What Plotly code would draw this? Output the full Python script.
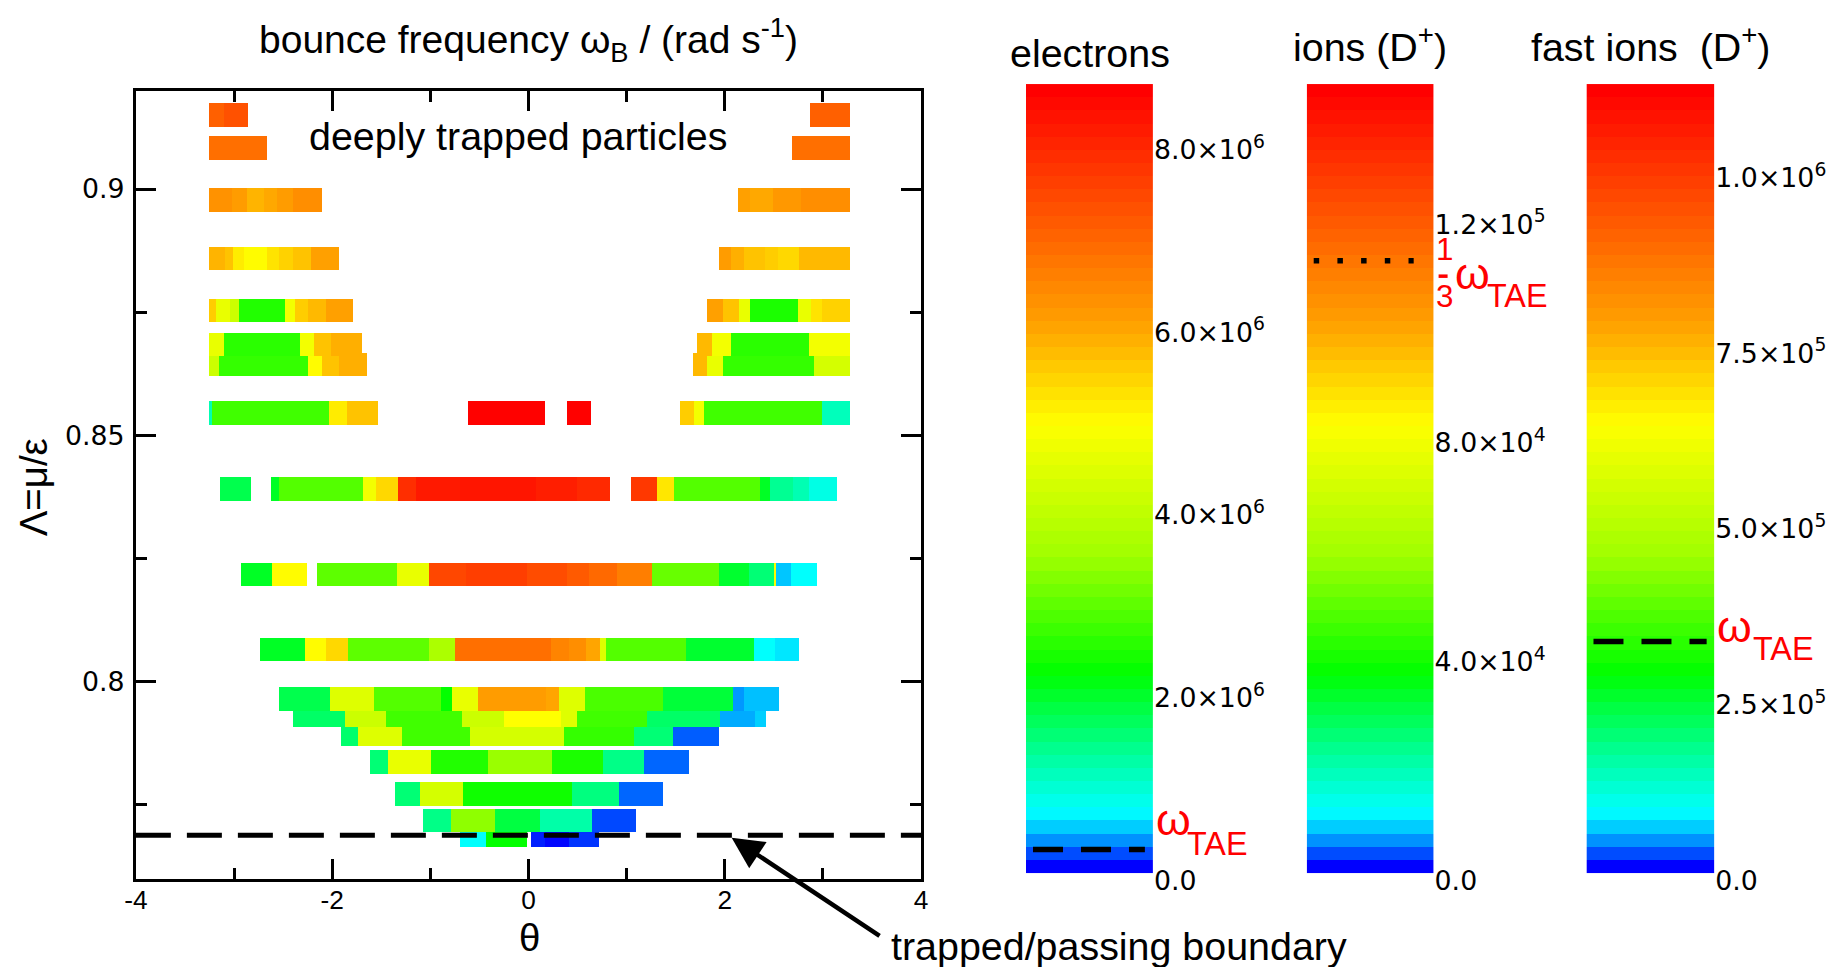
import plotly.graph_objects as go

W, H = 1832, 967
# the captured page comes out slightly resized and shifted; positions below are
# written in final picture pixels and mapped through this correction
SX, SY, OX = 0.9906, 0.988, 10.1
FS = 2.0 / (SX + SY)

TEXT_FONT = "Liberation Sans, Arial, Helvetica, sans-serif"
NUM_FONT = "DejaVu Sans, Verdana, sans-serif"

# rainbow map used for the bounce frequency (blue -> cyan -> green -> yellow -> red)
COLORSCALE = [
    [0.00, "rgb(0,0,255)"],
    [0.02, "rgb(0,90,255)"],
    [0.045, "rgb(0,190,255)"],
    [0.07, "rgb(0,255,255)"],
    [0.14, "rgb(0,255,160)"],
    [0.25, "rgb(0,255,0)"],
    [0.40, "rgb(160,255,0)"],
    [0.57, "rgb(255,255,0)"],
    [0.70, "rgb(255,160,0)"],
    [0.85, "rgb(255,80,0)"],
    [1.00, "rgb(255,0,0)"],
]

# TAE frequency (rad/s)
omega_tae = 3.4e5

# trapped/passing boundary in Lambda
lambda_boundary = 0.7688

# orbit rows: Lambda of each row, theta edges of its cells and the electron
# bounce frequency of each cell in units of 1e6 rad/s (None = empty cell)
OMEGA_UNIT = 1e6
ROW_WIDTH = 0.0048

row_lambda = [0.9151, 0.9084, 0.8979, 0.8860, 0.8754, 0.8685, 0.8645, 0.8546,
              0.8392, 0.8218, 0.8066, 0.7966, 0.7933, 0.7894, 0.7837, 0.7772,
              0.7719, 0.7688]

row_theta_edges = [
    [-3.26, -3.10, -2.86, 2.87, 3.27],
    [-3.26, -2.67, 2.68, 3.27],
    [-3.26, -3.02, -2.87, -2.70, -2.565, -2.405, -2.11, 2.13, 2.26, 2.49, 2.78, 3.27],
    [-3.26, -3.09, -3.01, -2.90, -2.67, -2.54, -2.405, -2.22, -1.93,
     1.94, 2.06, 2.19, 2.41, 2.54, 2.75, 3.27],
    [-3.26, -3.18, -3.04, -2.95, -2.485, -2.38, -2.25, -2.06, -1.79,
     1.82, 1.98, 2.14, 2.26, 2.74, 2.88, 2.99, 3.27],
    [-3.26, -3.10, -2.325, -2.19, -2.01, -1.70, 1.72, 1.87, 2.06, 2.86, 3.27],
    [-3.26, -3.15, -2.25, -2.11, -1.93, -1.65, 1.67, 1.82, 1.98, 2.91, 3.27],
    [-3.26, -3.23, -2.03, -1.85, -1.53, -0.62, 0.17, 0.39, 0.64,
     1.54, 1.69, 1.79, 2.99, 3.27],
    [-3.14, -2.83, -2.62, -2.54, -1.69, -1.555, -1.326, -1.145, -0.704, 0.077,
     0.492, 0.827, 1.04, 1.305, 1.486, 2.353, 2.459, 2.698, 2.858, 3.14],
    [-2.93, -2.61, -2.26, -2.16, -1.34, -1.02, -0.635, -0.013, 0.386, 0.614,
     0.901, 1.252, 1.938, 2.246, 2.501, 2.523, 2.677, 2.943],
    [-2.74, -2.28, -2.06, -1.84, -1.02, -0.747, 0.226, 0.412, 0.582, 0.731,
     0.784, 1.608, 2.299, 2.512, 2.751],
    [-2.54, -2.02, -1.58, -0.89, -0.784, -0.518, 0.173, 0.306, 0.572, 1.369,
     2.087, 2.193, 2.549],
    [-2.405, -1.874, -1.448, -0.677, -0.252, 0.333, 0.492, 1.21, 1.954, 2.31, 2.422],
    [-1.916, -1.741, -1.289, -0.598, 0.359, 1.077, 1.475, 1.938],
    [-1.613, -1.432, -0.996, -0.412, 0.237, 0.758, 1.172, 1.63],
    [-1.358, -1.103, -0.667, 0.439, 0.917, 1.374],
    [-1.071, -0.794, -0.342, 0.12, 0.641, 1.093],
    [-0.699, -0.438, -0.013, 0.024, 0.162, 0.412, 0.715],
]

row_omega_e = [
    [7.15, 7.4, None, 7.15],
    [6.9, None, 6.9],
    [6.33, 6.16, 5.86, 6.0, 6.16, 6.4, None, 6.1, 6.0, 6.24, 6.4],
    [5.86, 5.68, 5.2, 5.0, 5.3, 5.5, 5.68, 6.1, None, 6.16, 5.92, 5.68, 5.56, 5.43, 5.8],
    [5.56, 4.62, 4.15, 2.45, 4.78, 5.56, 5.8, 6.1, None, 6.1, 5.68, 4.62, 2.4, 4.62, 5.3, 5.5],
    [4.62, 2.52, 4.78, 5.68, 5.92, None, 5.8, 4.78, 2.52, 4.78],
    [4.15, 2.6, 5.0, 5.68, 5.92, None, 5.8, 4.62, 2.6, 4.3],
    [1.1, 2.7, 5.2, 5.68, None, 8.7, None, 8.7, None, 5.56, 4.78, 2.7, 1.05],
    [1.72, None, 1.96, 2.86, 4.78, 5.43, 7.97, 8.3, 8.38, 8.22, 8.05, None,
     7.8, 5.25, 2.86, 1.96, 1.3, 1.1, 0.78],
    [1.96, 5.0, None, 2.94, 4.62, 7.55, 7.7, 7.48, 7.25, 7.0, 6.65, 3.02,
     1.9, 1.48, 5.0, 0.42, 0.62],
    [1.96, 5.0, 5.43, 2.94, 3.68, 6.9, 6.56, 6.4, 6.04, 4.46, 2.86, 1.9, 0.62, 0.53],
    [1.72, 4.46, 2.86, 2.2, 4.62, 6.16, 6.04, 4.46, 2.78, 1.84, 0.31, 0.40],
    [1.57, 4.15, 2.7, 4.15, 4.95, 4.46, 2.7, 1.57, 0.35, 0.45],
    [1.53, 4.46, 2.7, 4.3, 2.6, 1.48, 0.18],
    [1.48, 4.62, 2.45, 3.44, 2.4, 1.37, 0.2],
    [1.48, 4.3, 2.3, 1.42, 0.2],
    [1.37, 3.35, 1.79, 1.17, 0.14],
    [0.62, 2.2, None, 0.06, 0.01, 0.1],
]

# colour-bar panels: title, value at the bottom / top of each bar, ticks
cbar_titles = ["electrons", "ions (D<sup>+</sup>)", "fast ions\u00a0 (D<sup>+</sup>)"]
cbar_lo = [0.0876e6, 1.46e3, 1.14e4]
cbar_hi = [8.716e6, 1.4563e5, 1.133e6]
cbar_tickvals = [
    [0, 2e6, 4e6, 6e6, 8e6],
    [0, 4e4, 8e4, 1.2e5],
    [0, 2.5e5, 5e5, 7.5e5, 1e6],
]
cbar_ticktext = [
    ["0.0", "2.0\u00d710<sup>6</sup>", "4.0\u00d710<sup>6</sup>",
     "6.0\u00d710<sup>6</sup>", "8.0\u00d710<sup>6</sup>"],
    ["0.0", "4.0\u00d710<sup>4</sup>", "8.0\u00d710<sup>4</sup>", "1.2\u00d710<sup>5</sup>"],
    ["0.0", "2.5\u00d710<sup>5</sup>", "5.0\u00d710<sup>5</sup>",
     "7.5\u00d710<sup>5</sup>", "1.0\u00d710<sup>6</sup>"],
]
# marker line on each bar: fraction of omega_tae and dash pattern
cbar_line_factor = [1.0, 1.0 / 3.0, 1.0]
cbar_line_dash = ["30px,18px", "5.5px,18.2px", "30px,18px"]
cbar_line_x = [[0.055, 0.937], [0.055, 0.843], [0.055, 0.94]]

N_BANDS = 60


def fx(px):
    return (px / SX - OX) / W


def fy(py):
    return 1 - (py / SY) / H


fig = go.Figure()

# ---- main panel: one horizontal bar per theta cell, lower rows first
bar_y, bar_base, bar_len, bar_val = [], [], [], []
rows = sorted(zip(row_lambda, row_theta_edges, row_omega_e), key=lambda r: r[0])
for lam, edges, vals in rows:
    for i, v in enumerate(vals):
        if v is None:
            continue
        bar_y.append(lam)
        bar_base.append(edges[i])
        bar_len.append(edges[i + 1] - edges[i])
        bar_val.append(v * OMEGA_UNIT)

fig.add_trace(go.Bar(
    orientation="h", y=bar_y, x=bar_len, base=bar_base, width=ROW_WIDTH,
    marker=dict(color=bar_val, colorscale=COLORSCALE, cmin=0,
                cmax=cbar_hi[0], line=dict(width=0)),
    showlegend=False, hoverinfo="skip", xaxis="x", yaxis="y",
))

fig.add_trace(go.Scatter(
    x=[-4, 4], y=[lambda_boundary, lambda_boundary], mode="lines",
    line=dict(color="black", width=5, dash="35px,16px"),
    showlegend=False, hoverinfo="skip", xaxis="x", yaxis="y",
))

# ---- colour bars (drawn as one-column heatmaps of discrete bands)
cbar_x_px = [(1025, 1152), (1306, 1433), (1586, 1714)]
BAR_TOP_PX, BAR_BOTTOM_PX = 84, 872

for k in range(3):
    ax = k + 2
    lo, hi = cbar_lo[k], cbar_hi[k]
    edges = [lo + (hi - lo) * i / N_BANDS for i in range(N_BANDS + 1)]
    levels = [[lo + (hi - lo) * i / (N_BANDS - 1)] for i in range(N_BANDS)]
    fig.add_trace(go.Heatmap(
        x=[0, 1], y=edges, z=levels, colorscale=COLORSCALE, zmin=lo, zmax=hi,
        showscale=False, hoverinfo="skip", xaxis=f"x{ax}", yaxis=f"y{ax}",
    ))
    yv = omega_tae * cbar_line_factor[k]
    fig.add_trace(go.Scatter(
        x=cbar_line_x[k], y=[yv, yv], mode="lines",
        line=dict(color="black", width=5.5, dash=cbar_line_dash[k]),
        showlegend=False, hoverinfo="skip", xaxis=f"x{ax}", yaxis=f"y{ax}",
    ))
    # axis extends a little below the bar so that the zero tick is shown
    px_per_unit = (BAR_BOTTOM_PX - BAR_TOP_PX) / (hi - lo)
    r0 = -0.5 * lo
    bottom_px = BAR_BOTTOM_PX + (lo - r0) * px_per_unit
    x0, x1 = cbar_x_px[k]
    fig.update_layout({
        f"xaxis{ax}": dict(domain=[fx(x0), fx(x1)], range=[0, 1], visible=False,
                           anchor=f"y{ax}", fixedrange=True),
        f"yaxis{ax}": dict(domain=[fy(bottom_px), fy(BAR_TOP_PX)], range=[r0, hi],
                           anchor=f"x{ax}", side="right", showline=False, ticks="",
                           showgrid=False, zeroline=False, tickmode="array",
                           tickvals=cbar_tickvals[k], ticktext=cbar_ticktext[k],
                           tickfont=dict(family=NUM_FONT, size=26.5 * FS, color="black")),
    })

axis_common = dict(
    showline=True, linewidth=3, linecolor="black", mirror="ticks",
    ticks="inside", ticklen=20, tickwidth=3, tickcolor="black",
    showgrid=False, zeroline=False,
)

fig.update_layout(
    width=W, height=H, autosize=False,
    margin=dict(l=0, r=0, t=0, b=0),
    paper_bgcolor="white", plot_bgcolor="white",
    bargap=0, barmode="overlay",
    xaxis=dict(domain=[fx(134), fx(920)], range=[-4, 4], anchor="y",
               tickmode="array", tickvals=[-4, -2, 0, 2, 4],
               ticktext=["-4", "-2", "0", "2", "4"], ticklabelstandoff=-4,
               minor=dict(tickmode="linear", tick0=-4, dtick=1, ticks="inside",
                          ticklen=11, tickwidth=3, tickcolor="black"),
               tickfont=dict(family=TEXT_FONT, size=26 * FS, color="black"),
               **axis_common),
    yaxis=dict(domain=[fy(878), fy(90.5)], range=[0.76, 0.92], anchor="x",
               tickmode="array", tickvals=[0.8, 0.85, 0.9],
               ticktext=["0.8", "0.85", "0.9"], ticklabelstandoff=3,
               minor=dict(tickmode="linear", tick0=0.775, dtick=0.025, ticks="inside",
                          ticklen=11, tickwidth=3, tickcolor="black"),
               tickfont=dict(family=NUM_FONT, size=26.5 * FS, color="black"),
               **axis_common),
)

ann = []


def text(x, y, s, size=39, color="black", xanchor="center", family=TEXT_FONT, angle=0):
    ann.append(dict(x=fx(x), y=fy(y), xref="paper", yref="paper", text=s,
                    showarrow=False, xanchor=xanchor, yanchor="middle", borderpad=0,
                    textangle=angle,
                    font=dict(family=family, size=size * FS, color=color)))


text(527, 40, "bounce frequency \u03c9<sub>B</sub> / (rad s<sup>-1</sup>)", size=38.6)
text(517, 136, "deeply trapped particles")
text(528, 937, "\u03b8", size=38)
text(31.5, 486.5, "\u039b=\u03bc/\u03b5", size=38, angle=-90)
text(1118, 945, "trapped/passing boundary")
text(1089, 53, cbar_titles[0])
text(1369.5, 44, cbar_titles[1])
text(1650, 44, cbar_titles[2])

# red TAE labels next to the colour bars
RED = "rgb(255,0,0)"
text(1154, 819, "\u03c9", size=44, color=RED, xanchor="left")
text(1185, 843, "TAE", size=32, color=RED, xanchor="left")
text(1716, 626, "\u03c9", size=44, color=RED, xanchor="left")
text(1752, 649, "TAE", size=32, color=RED, xanchor="left")
text(1434, 249, "1", size=31, color=RED, xanchor="left")
text(1434, 296, "3", size=31, color=RED, xanchor="left")
text(1453, 273, "\u03c9", size=44, color=RED, xanchor="left")
text(1485, 296, "TAE", size=32, color=RED, xanchor="left")

# arrow pointing at the trapped/passing boundary
ann.append(dict(x=2.07, y=0.7683, xref="x", yref="y", text="", showarrow=True,
                ax=148 / SX, ay=98 / SY, arrowhead=2, arrowsize=1.4, arrowwidth=4.5,
                arrowcolor="black", standoff=0))

fig.update_layout(
    annotations=ann,
    # fraction bar of the 1/3 label
    shapes=[dict(type="line", xref="paper", yref="paper",
                 x0=fx(1438), x1=fx(1447), y0=fy(276), y1=fy(276),
                 line=dict(color=RED, width=3.5))],
)

fig.write_html("out.html")
